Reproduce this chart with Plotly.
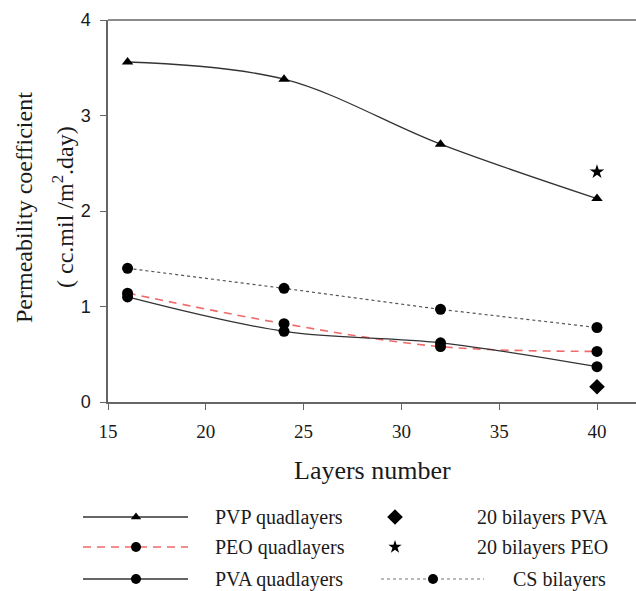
import plotly.graph_objects as go

# ---- data ----
layers = [16, 24, 32, 40]
pvp_quad = [3.56, 3.38, 2.70, 2.13]
peo_quad = [1.14, 0.82, 0.58, 0.53]
pva_quad = [1.10, 0.74, 0.62, 0.37]
cs_bi = [1.40, 1.19, 0.97, 0.78]
bi20_x = [40]
bi20_pva = [0.16]
bi20_peo = [2.41]

x_ticks = [15, 20, 25, 30, 35, 40]
y_ticks = [0, 1, 2, 3, 4]

W, H = 636, 591
# plot area in pixels
L, R, T, B = 108, 636, 20, 402

SERIF = "Liberation Serif, Times New Roman, serif"
SANS = "Liberation Sans, Arial, sans-serif"
LINE = "#333333"
AX = "#666666"
RED = "#f06a6a"
CLEAR = "rgba(0,0,0,0)"
TXT = "#1a1a1a"

fig = go.Figure()

fig.add_trace(go.Scatter(x=layers, y=pvp_quad, mode="lines+markers", line=dict(color=LINE, width=1.3, shape="spline"),
                         marker=dict(symbol="triangle-up", size=10, color="black"), name="PVP quadlayers"))
fig.add_trace(go.Scatter(x=layers, y=cs_bi, mode="lines+markers", line=dict(color="#555555", width=1.2, dash="dot"),
                         marker=dict(symbol="circle", size=11, color="black"), name="CS bilayers"))
fig.add_trace(go.Scatter(x=layers, y=peo_quad, mode="lines+markers", line=dict(color=RED, width=1.6, dash="8px,6px", shape="spline"),
                         marker=dict(symbol="circle", size=11, color="black"), name="PEO quadlayers"))
fig.add_trace(go.Scatter(x=layers, y=pva_quad, mode="lines+markers", line=dict(color=LINE, width=1.3, shape="spline"),
                         marker=dict(symbol="circle", size=11, color="black"), name="PVA quadlayers"))
fig.add_trace(go.Scatter(x=bi20_x, y=bi20_pva, mode="markers",
                         marker=dict(symbol="diamond", size=12, color="black"), name="20 bilayers PVA"))
fig.add_trace(go.Scatter(x=bi20_x, y=bi20_peo, mode="markers",
                         marker=dict(symbol="star", size=11, color="black"), name="20 bilayers PEO"))

# ---- custom legend (pixel-space overlay axis) ----
leg_rows = [517, 547, 579]
LEG_FS = 20
col1 = [("PVP quadlayers", dict(color=LINE, width=1.3), "triangle-up", 9),
        ("PEO quadlayers", dict(color=RED, width=1.6, dash="8px,6px"), "circle", 10),
        ("PVA quadlayers", dict(color=LINE, width=1.3), "circle", 10)]
for (name, ln, sym, sz), yy in zip(col1, leg_rows):
    fig.add_trace(go.Scatter(x=[83, 188], y=[yy, yy], mode="lines", line=ln, xaxis="x2", yaxis="y2", hoverinfo="skip"))
    fig.add_trace(go.Scatter(x=[136], y=[yy], mode="markers", marker=dict(symbol=sym, size=sz, color="black"),
                             xaxis="x2", yaxis="y2", hoverinfo="skip"))
    fig.add_annotation(x=213, y=yy, xref="x2", yref="y2", text=name, showarrow=False, xanchor="left", yanchor="middle",
                       font=dict(family=SERIF, size=LEG_FS, color=TXT))

col2 = [("20 bilayers PVA", "diamond", 12), ("20 bilayers PEO", "star", 10)]
for (name, sym, sz), yy in zip(col2, leg_rows[:2]):
    fig.add_trace(go.Scatter(x=[395], y=[yy], mode="markers", marker=dict(symbol=sym, size=sz, color="black"),
                             xaxis="x2", yaxis="y2", hoverinfo="skip"))
    fig.add_annotation(x=610, y=yy, xref="x2", yref="y2", text=name, showarrow=False, xanchor="right", yanchor="middle",
                       font=dict(family=SERIF, size=LEG_FS, color=TXT))
fig.add_trace(go.Scatter(x=[381, 484], y=[579, 579], mode="lines", line=dict(color="#777", width=1, dash="dot"),
                         xaxis="x2", yaxis="y2", hoverinfo="skip"))
fig.add_trace(go.Scatter(x=[433], y=[579], mode="markers", marker=dict(symbol="circle", size=10, color="black"),
                         xaxis="x2", yaxis="y2", hoverinfo="skip"))
fig.add_annotation(x=608, y=579, xref="x2", yref="y2", text="CS bilayers", showarrow=False, xanchor="right", yanchor="middle",
                   font=dict(family=SERIF, size=LEG_FS, color=TXT))

# axis titles
fig.add_annotation(x=(L + R) / 2, y=470, xref="x2", yref="y2", text="Layers number", showarrow=False,
                   font=dict(family=SERIF, size=26, color=TXT))
fig.add_annotation(x=24, y=208, xref="x2", yref="y2", text="Permeability coefficient", showarrow=False, textangle=-90,
                   font=dict(family=SERIF, size=24, color=TXT))
fig.add_annotation(x=63, y=207, xref="x2", yref="y2", text="( cc.mil /m<sup>2</sup>.day)", showarrow=False, textangle=-90,
                   font=dict(family=SERIF, size=24, color=TXT))

# top frame line
fig.add_shape(type="line", xref="x domain", yref="y domain", x0=0, x1=1, y0=1, y1=1, line=dict(color=AX, width=1.5))

px_per_x = (597 - L) / 25.0
fig.update_layout(
    width=W, height=H, template="none", showlegend=False,
    margin=dict(l=0, r=0, t=0, b=0), paper_bgcolor="white", plot_bgcolor=CLEAR,
    xaxis=dict(domain=[L / W, R / W], range=[15, 15 + (R - L) / px_per_x], tickvals=x_ticks, ticks="outside",
               ticklen=6, tickcolor=AX, showline=True, linecolor=AX, linewidth=1.5, showgrid=False, zeroline=False,
               automargin=False, ticklabelstandoff=5, tickfont=dict(family=SERIF, size=19, color=TXT)),
    yaxis=dict(domain=[(H - B) / H, (H - T) / H], range=[0, 4], tickvals=y_ticks, ticks="outside", ticklen=6,
               tickcolor=AX, showline=True, linecolor=AX, linewidth=1.5, showgrid=False, zeroline=False,
               automargin=False, ticklabelstandoff=6, tickfont=dict(family=SANS, size=18, color=TXT)),
    xaxis2=dict(domain=[0, 1], range=[0, W], visible=False, anchor="y2", fixedrange=True),
    yaxis2=dict(domain=[0, 1], range=[H, 0], visible=False, anchor="x2", fixedrange=True),
)

fig.write_html("out.html", config={"displayModeBar": False}, post_script="document.body.style.margin='0';")
